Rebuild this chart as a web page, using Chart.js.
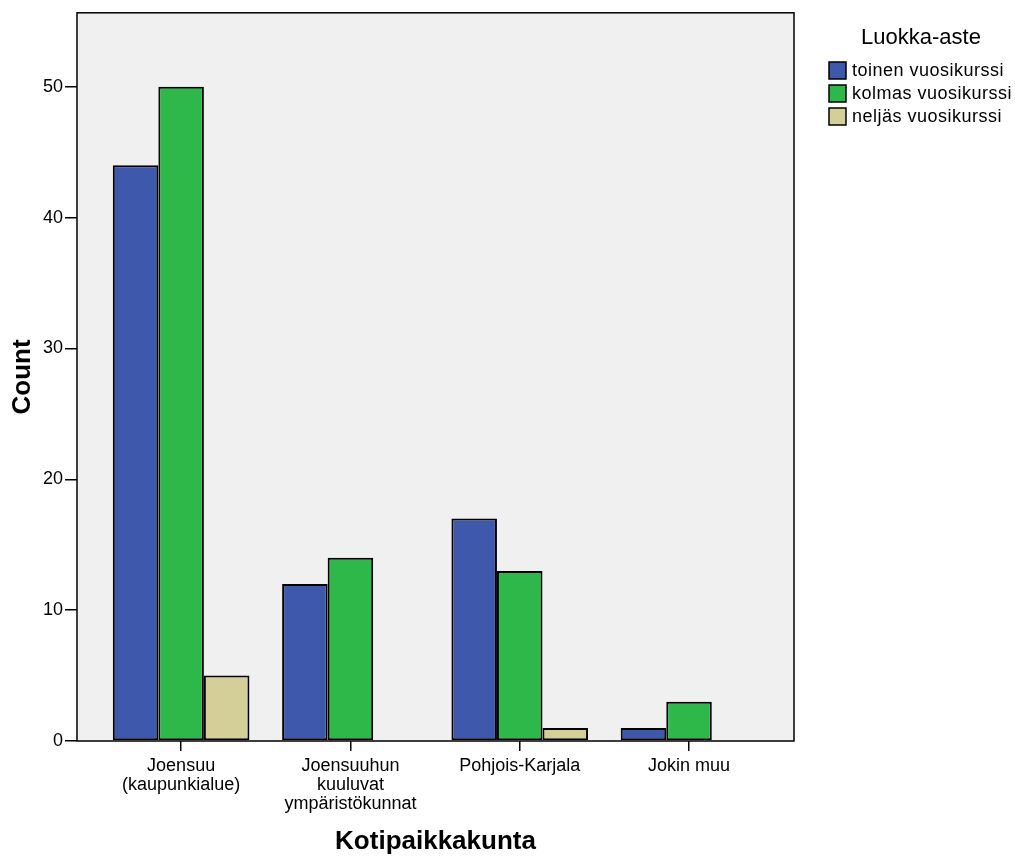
<!DOCTYPE html>
<html>
<head>
<meta charset="utf-8">
<script src="https://cdn.jsdelivr.net/npm/chart.js@4/dist/chart.umd.min.js"></script>
<style>
  body { margin: 0; background: #fff; }
  #wrap { width: 1015px; height: 857px; }
</style>
</head>
<body>
<div id="wrap"><canvas id="myChart"></canvas></div>
<script>
// data
var categories = [['Joensuu', '(kaupunkialue)'], ['Joensuuhun', 'kuuluvat', 'ympäristökunnat'], ['Pohjois-Karjala'], ['Jokin muu']];
var seriesNames = ['toinen vuosikurssi', 'kolmas vuosikurssi', 'neljäs vuosikurssi'];
var toinen = [44, 12, 17, 1];
var kolmas = [50, 14, 13, 3];
var neljas = [5, 0, 1, 0];
var yTicks = [0, 10, 20, 30, 40, 50];

var colors = ['#3e58ac', '#2eb84a', '#d4ce98'];
var font = 'Liberation Sans, Arial, sans-serif';

function toPoints(arr) {
  return arr.map(function (v, i) { return { x: i, y: v }; });
}

// grey plot background + black frame
var framePlugin = {
  id: 'frame',
  beforeDatasetsDraw: function (chart) {
    var a = chart.chartArea, ctx = chart.ctx;
    ctx.save();
    ctx.fillStyle = '#f0f0f0';
    ctx.fillRect(a.left, a.top, a.right - a.left, a.bottom - a.top);
    ctx.restore();
  },
  afterDraw: function (chart) {
    var a = chart.chartArea, ctx = chart.ctx;
    ctx.save();
    ctx.strokeStyle = '#000';
    ctx.lineWidth = 1.5;
    ctx.strokeRect(a.left, a.top, a.right - a.left, a.bottom - a.top);
    ctx.restore();
  }
};

// legend on the right, SPSS style
var legendPlugin = {
  id: 'spssLegend',
  afterDraw: function (chart) {
    var ctx = chart.ctx;
    ctx.save();
    ctx.fillStyle = '#000';
    ctx.font = '22px ' + font;
    ctx.textAlign = 'center';
    ctx.textBaseline = 'middle';
    ctx.fillText('Luokka-aste', 921, 38);
    ctx.font = '18px ' + font;
    ctx.textAlign = 'left';
    ctx.letterSpacing = '0.5px';
    chart.data.datasets.forEach(function (ds, i) {
      var y = 62 + i * 23;
      ctx.fillStyle = ds.backgroundColor;
      ctx.fillRect(829, y, 17, 17);
      ctx.strokeStyle = '#000';
      ctx.lineWidth = 1.5;
      ctx.strokeRect(829, y, 17, 17);
      ctx.fillStyle = '#000';
      ctx.fillText(ds.label, 852, y + 9);
    });
    ctx.restore();
  }
};

var datasets = [toinen, kolmas, neljas].map(function (arr, i) {
  return {
    label: seriesNames[i],
    data: toPoints(arr),
    backgroundColor: colors[i],
    borderColor: '#000',
    borderWidth: 2,
    borderSkipped: false,
    barPercentage: 1,
    categoryPercentage: 0.807
  };
});

var myChart = new Chart(document.getElementById('myChart').getContext('2d'), {
  type: 'bar',
  data: { datasets: datasets },
  plugins: [framePlugin, legendPlugin],
  options: {
    responsive: true,
    maintainAspectRatio: false,
    animation: false,
    layout: { padding: { top: 12, right: 221, left: 0, bottom: 0 } },
    plugins: {
      legend: { display: false },
      tooltip: { enabled: false }
    },
    scales: {
      x: {
        type: 'linear',
        min: -0.615,
        max: 3.62,
        offset: false,
        afterBuildTicks: function (scale) {
          scale.ticks = categories.map(function (c, i) { return { value: i }; });
        },
        afterFit: function (scale) { scale.height = 116; },
        grid: { offset: false, drawOnChartArea: false, drawTicks: true, tickLength: 10, color: '#000', lineWidth: 1.5 },
        border: { display: false },
        ticks: {
          autoSkip: false,
          maxRotation: 0,
          padding: 6,
          color: '#000',
          font: { family: font, size: 18, lineHeight: 1.05 },
          callback: function (v, i) { return categories[i]; }
        },
        title: {
          display: true,
          text: 'Kotipaikkakunta',
          color: '#000',
          font: { family: font, size: 26, weight: 'bold' },
          padding: { top: 0, bottom: 0 }
        }
      },
      y: {
        min: 0,
        max: 55.65,
        afterBuildTicks: function (scale) {
          scale.ticks = yTicks.map(function (v) { return { value: v }; });
        },
        afterFit: function (scale) { scale.width = 77; },
        grid: { drawOnChartArea: false, drawTicks: true, tickLength: 12, color: '#000', lineWidth: 1.5 },
        border: { display: false },
        ticks: {
          padding: 2,
          color: '#000',
          font: { family: font, size: 18 }
        },
        title: {
          display: true,
          text: 'Count',
          color: '#000',
          font: { family: font, size: 26, weight: 'bold' },
          padding: { top: 7, bottom: 0 }
        }
      }
    }
  }
});
</script>
</body>
</html>
